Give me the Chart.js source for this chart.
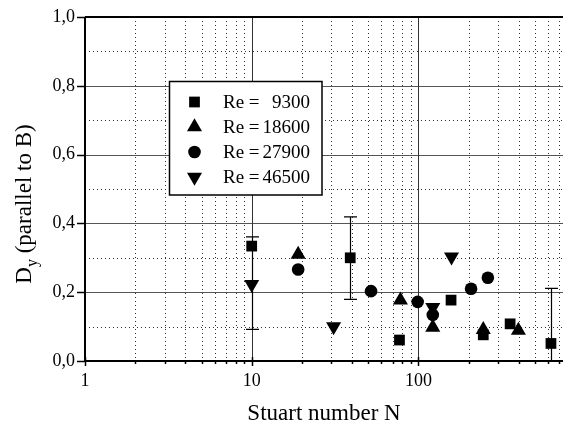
<!DOCTYPE html>
<html><head><meta charset="utf-8">
<script src="https://cdn.jsdelivr.net/npm/chart.js@4"></script>
<style>html,body{margin:0;padding:0;background:#fff;overflow:hidden;}#wrap{width:563px;height:428px;}canvas{display:block;}</style>
</head><body><div id="wrap"><canvas id="c" width="563" height="428"></canvas></div>
<script>
// ---- data ----
const seriesLabels = ['Re =   9300', 'Re = 18600', 'Re = 27900', 'Re = 46500'];
const re9300N = [10, 39, 77, 157, 245, 355, 624];
const re9300D = [0.334, 0.300, 0.061, 0.177, 0.076, 0.108, 0.051];
const re18600N = [19, 78, 122, 245, 398];
const re18600D = [0.310, 0.177, 0.098, 0.091, 0.089];
const re27900N = [19, 52, 99, 122, 207, 261];
const re27900D = [0.266, 0.203, 0.172, 0.134, 0.210, 0.242];
const re46500N = [10, 31, 122, 158];
const re46500D = [0.223, 0.100, 0.156, 0.303];
const errN = [10, 39, 624];
const errLow = [0.092, 0.179, 0.0];
const errHigh = [0.361, 0.419, 0.211];
const yTickLabels = ['0,0', '0,2', '0,4', '0,6', '0,8', '1,0'];
const xTickLabels = ['1', '10', '100'];
const xTitle = 'Stuart number N';
const yTitleMain = 'D';
const yTitleSub = 'y';
const yTitleRest = ' (parallel to B)';

const FONT = 'Liberation Serif, Times New Roman, serif';
const toPts = (xs, ys) => xs.map((x, i) => ({x: x, y: ys[i]}));

const decorPlugin = {
  id: 'decor',
  beforeDatasetsDraw(chart) {
    const {ctx, chartArea: a, scales: {x, y}} = chart;
    ctx.save();
    // horizontal grid
    for (let k = 1; k < 10; k++) {
      const v = k / 10;
      const py = Math.round(y.getPixelForValue(v)) + 0.5;
      ctx.beginPath();
      if (k % 2 === 0) { ctx.setLineDash([]); ctx.strokeStyle = '#555'; }
      else { ctx.setLineDash([1, 3]); ctx.strokeStyle = '#333'; }
      ctx.lineWidth = 1;
      ctx.moveTo(a.left, py); ctx.lineTo(a.right, py); ctx.stroke();
    }
    // vertical grid
    [1, 10, 100].forEach(d => {
      for (let m = 1; m < 10; m++) {
        const v = m * d;
        if (v < x.min || v >= x.max) continue;
        const px = Math.round(x.getPixelForValue(v)) + 0.5;
        if (v > x.min) {
          ctx.beginPath();
          if (m === 1) { ctx.setLineDash([]); ctx.strokeStyle = '#333'; }
          else { ctx.setLineDash([1, 3]); ctx.strokeStyle = '#333'; }
          ctx.lineWidth = 1;
          ctx.moveTo(px, a.top); ctx.lineTo(px, a.bottom); ctx.stroke();
        }
        // tick marks on bottom axis
        ctx.setLineDash([]); ctx.strokeStyle = '#000'; ctx.lineWidth = 1.5;
        ctx.beginPath();
        if (m === 1) { ctx.moveTo(px, a.bottom - 4); ctx.lineTo(px, a.bottom + 5); }
        else { ctx.moveTo(px, a.bottom); ctx.lineTo(px, a.bottom + 3); }
        ctx.stroke();
      }
    });
    // y tick marks
    ctx.setLineDash([]); ctx.strokeStyle = '#000'; ctx.lineWidth = 1.5;
    for (let k = 0; k <= 10; k += 2) {
      const py = Math.round(y.getPixelForValue(k / 10)) + 0.5;
      ctx.beginPath(); ctx.moveTo(a.left - 8, py); ctx.lineTo(a.left, py); ctx.stroke();
    }
    // axes / frame
    ctx.lineWidth = 2;
    ctx.beginPath();
    ctx.moveTo(a.left, a.top); ctx.lineTo(a.right, a.top);
    ctx.moveTo(a.left, a.top); ctx.lineTo(a.left, a.bottom);
    ctx.moveTo(a.left - 1, a.bottom); ctx.lineTo(a.right, a.bottom);
    ctx.stroke();
    // error bars
    ctx.lineWidth = 1.2; ctx.strokeStyle = '#000';
    errN.forEach((n, i) => {
      const px = Math.round(x.getPixelForValue(n)) + 0.5;
      const pl = y.getPixelForValue(errLow[i]);
      const ph = y.getPixelForValue(errHigh[i]);
      ctx.beginPath();
      ctx.moveTo(px, pl); ctx.lineTo(px, ph);
      ctx.moveTo(px - 6.5, ph); ctx.lineTo(px + 6.5, ph);
      if (errLow[i] > 0) { ctx.moveTo(px - 6.5, pl); ctx.lineTo(px + 6.5, pl); }
      ctx.stroke();
    });
    ctx.restore();
  },
  afterDraw(chart) {
    const {ctx} = chart;
    ctx.save();
    // legend box
    const bx = 169.5, by = 81.5, bw = 152.5, bh = 113.5;
    ctx.fillStyle = '#fff';
    ctx.fillRect(bx, by, bw, bh);
    ctx.strokeStyle = '#000'; ctx.lineWidth = 1.5;
    ctx.strokeRect(bx, by, bw, bh);
    chart.data.datasets.forEach((ds, i) => {
      const cy = 102 + i * 25;
      ctx.fillStyle = '#000'; ctx.strokeStyle = '#000';
      Chart.helpers.drawPoint(ctx, {pointStyle: ds.pointStyle, radius: ds.pointRadius, rotation: ds.rotation || 0, borderWidth: 0}, 194.5, cy);
      const parts = ds.label.split('=');
      ctx.font = '19px ' + FONT;
      ctx.textBaseline = 'middle';
      ctx.textAlign = 'left';
      ctx.fillText(parts[0].trim() + ' =', 223, cy + 1);
      ctx.textAlign = 'right';
      ctx.fillText(parts[1].trim(), 310, cy + 1);
    });
    // y axis title
    ctx.translate(31, 204);
    ctx.rotate(-Math.PI / 2);
    ctx.fillStyle = '#000';
    ctx.textBaseline = 'alphabetic';
    ctx.textAlign = 'left';
    const big = '23px ' + FONT, small = '16px ' + FONT;
    ctx.font = big; const w1 = ctx.measureText(yTitleMain).width; const w3 = ctx.measureText(yTitleRest).width;
    ctx.font = small; const w2 = ctx.measureText(yTitleSub).width;
    let sx = -(w1 + w2 + w3) / 2;
    ctx.font = big; ctx.fillText(yTitleMain, sx, 0); sx += w1;
    ctx.font = small; ctx.fillText(yTitleSub, sx, 6); sx += w2;
    ctx.font = big; ctx.fillText(yTitleRest, sx, 0);
    ctx.restore();
  }
};

const mk = (label, xs, ys, style, r, rot) => ({
  label: label, data: toPts(xs, ys), pointStyle: style, pointRadius: r, pointHoverRadius: r,
  rotation: rot || 0, backgroundColor: '#000', borderColor: '#000', borderWidth: 0, showLine: false,
  clip: false
});

const zeroPad = (s) => { s.paddingTop = 0; s.paddingBottom = 0; s.paddingLeft = 0; s.paddingRight = 0; };

new Chart(document.getElementById('c'), {
  type: 'scatter',
  data: {
    datasets: [
      mk(seriesLabels[0], re9300N, re9300D, 'rect', 7.6),
      mk(seriesLabels[1], re18600N, re18600D, 'triangle', 8.7),
      mk(seriesLabels[2], re27900N, re27900D, 'circle', 6.3),
      mk(seriesLabels[3], re46500N, re46500D, 'triangle', 8.7, 180)
    ]
  },
  options: {
    responsive: false, animation: false, devicePixelRatio: 1,
    layout: {autoPadding: false, padding: {top: 17, left: 0, right: 0, bottom: 0}},
    plugins: {legend: {display: false}, tooltip: {enabled: false}},
    scales: {
      x: {
        type: 'logarithmic', min: 1, max: 737,
        grid: {display: false, drawTicks: false}, border: {display: false},
        ticks: {
          autoSkip: false, maxRotation: 0, minRotation: 0, padding: 9, color: '#000',
          font: {family: FONT, size: 18},
          callback: (v) => {
            const l = Math.log10(v);
            if (Math.abs(l - Math.round(l)) < 1e-9) { const s = xTickLabels[Math.round(l)]; return s || ''; }
            return '';
          }
        },
        title: {display: true, text: xTitle, color: '#000', font: {family: FONT, size: 23}, padding: {top: 0, bottom: 0}},
        afterFit: (s) => { s.height = 67; zeroPad(s); }
      },
      y: {
        min: 0, max: 1,
        grid: {display: false, drawTicks: false}, border: {display: false},
        ticks: {
          stepSize: 0.1, padding: 10, color: '#000', font: {family: FONT, size: 18},
          callback: (v) => { const k = Math.round(v * 10); return k % 2 === 0 ? yTickLabels[k / 2] : ''; }
        },
        afterFit: (s) => { s.width = 85; zeroPad(s); }
      }
    }
  },
  plugins: [decorPlugin]
});
</script>
</body></html>
